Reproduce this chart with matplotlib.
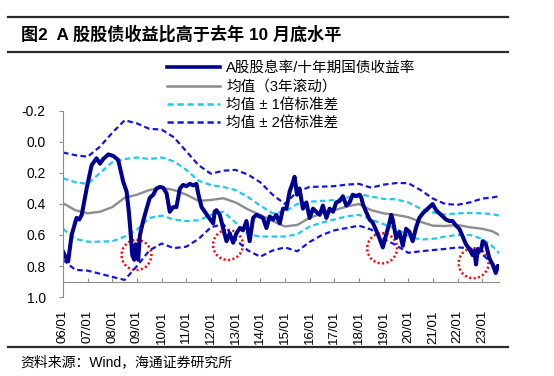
import matplotlib
matplotlib.use("Agg")
import matplotlib.pyplot as plt
from matplotlib.lines import Line2D
from matplotlib.patches import Ellipse

plt.rcParams["font.family"] = ["Liberation Sans", "Noto Sans CJK SC"]

# A股股息率/十年期国债收益率 (decimal years)
ratio_years = [
    2006.01, 2006.10, 2006.21, 2006.35, 2006.55, 2006.66, 2006.76, 2006.96,
    2007.16, 2007.36, 2007.50, 2007.63, 2007.84, 2008.04, 2008.24, 2008.44,
    2008.58, 2008.67, 2008.75, 2008.81, 2008.89, 2008.95, 2008.98, 2009.05,
    2009.12, 2009.25, 2009.39, 2009.52, 2009.66, 2009.79, 2009.93, 2010.06,
    2010.20, 2010.33, 2010.47, 2010.60, 2010.74, 2010.87, 2011.01, 2011.14,
    2011.28, 2011.41, 2011.48, 2011.62, 2011.75, 2011.88, 2012.02, 2012.09,
    2012.15, 2012.22, 2012.36, 2012.49, 2012.63, 2012.76, 2012.90, 2013.03,
    2013.17, 2013.30, 2013.44, 2013.57, 2013.71, 2013.84, 2013.98, 2014.11,
    2014.25, 2014.38, 2014.52, 2014.65, 2014.79, 2014.92, 2015.06, 2015.19,
    2015.33, 2015.39, 2015.49, 2015.59, 2015.73, 2015.87, 2016.00, 2016.14,
    2016.27, 2016.41, 2016.54, 2016.68, 2016.81, 2016.95, 2017.08, 2017.22,
    2017.35, 2017.49, 2017.62, 2017.75, 2017.89, 2018.03, 2018.10, 2018.16,
    2018.29, 2018.43, 2018.56, 2018.70, 2018.83, 2018.97, 2019.10, 2019.24,
    2019.31, 2019.37, 2019.51, 2019.64, 2019.78, 2019.91, 2020.05, 2020.18,
    2020.32, 2020.45, 2020.59, 2020.72, 2020.86, 2020.99, 2021.13, 2021.26,
    2021.40, 2021.53, 2021.67, 2021.80, 2021.94, 2022.07, 2022.21, 2022.34,
    2022.48, 2022.61, 2022.68, 2022.75, 2022.82, 2022.95, 2023.02, 2023.15,
    2023.29, 2023.42, 2023.55, 2023.62, 2023.69,
]
ratio_vals = [
    0.71, 0.74, 0.77, 0.60, 0.49, 0.50, 0.47, 0.30,
    0.15, 0.105, 0.14, 0.11, 0.08, 0.09, 0.116, 0.256,
    0.32, 0.45, 0.60, 0.73, 0.76, 0.66, 0.70, 0.76,
    0.60, 0.51, 0.43, 0.36, 0.34, 0.30, 0.29, 0.295,
    0.33, 0.45, 0.42, 0.42, 0.30, 0.277, 0.285, 0.27,
    0.28, 0.27, 0.33, 0.42, 0.45, 0.48, 0.51, 0.525,
    0.45, 0.44, 0.47, 0.555, 0.64, 0.59, 0.65, 0.59,
    0.555, 0.57, 0.51, 0.64, 0.49, 0.47, 0.48, 0.49,
    0.555, 0.48, 0.50, 0.47, 0.525, 0.43, 0.43, 0.32,
    0.256, 0.224, 0.34, 0.30, 0.43, 0.39, 0.49, 0.43,
    0.45, 0.47, 0.41, 0.49, 0.43, 0.45, 0.39, 0.38,
    0.35, 0.41, 0.39, 0.34, 0.35, 0.34, 0.36, 0.40,
    0.45, 0.50, 0.52, 0.57, 0.62, 0.68, 0.60, 0.52,
    0.47, 0.50, 0.62, 0.58, 0.67, 0.56, 0.58, 0.64,
    0.55, 0.49, 0.46, 0.44, 0.42, 0.40, 0.44, 0.46,
    0.48, 0.50, 0.51, 0.51, 0.54, 0.56, 0.61, 0.66,
    0.69, 0.73, 0.70, 0.79, 0.69, 0.70, 0.64, 0.66,
    0.75, 0.79, 0.845, 0.80, 0.80,
]

# 均值（3年滚动）and bands
band_years = [
    2006.0, 2006.5, 2007.0, 2007.5, 2008.0, 2008.5, 2009.0, 2009.5, 2010.0,
    2010.5, 2011.0, 2011.5, 2012.0, 2012.5, 2013.0, 2013.5, 2014.0, 2014.5,
    2015.0, 2015.5, 2016.0, 2016.5, 2017.0, 2017.5, 2018.0, 2018.5, 2019.0,
    2019.5, 2020.0, 2020.5, 2021.0, 2021.5, 2022.0, 2022.5, 2023.0, 2023.4,
    2023.69,
]
mean_vals = [
    0.395, 0.44, 0.46, 0.45, 0.42, 0.36, 0.34, 0.31, 0.295,
    0.31, 0.34, 0.38, 0.374, 0.363, 0.39, 0.435, 0.47, 0.51,
    0.545, 0.535, 0.49, 0.46, 0.44, 0.417, 0.40, 0.44, 0.46,
    0.47, 0.485, 0.515, 0.54, 0.542, 0.535, 0.55, 0.56, 0.575,
    0.60,
]
sd1_upper = [
    0.234, 0.26, 0.27, 0.20, 0.13, 0.11, 0.10, 0.11, 0.10,
    0.125, 0.18, 0.25, 0.278, 0.29, 0.31, 0.355, 0.41, 0.46,
    0.45, 0.40, 0.385, 0.38, 0.375, 0.36, 0.335, 0.352, 0.367,
    0.37, 0.39, 0.43, 0.455, 0.468, 0.46, 0.458, 0.46, 0.465,
    0.475,
]
sd1_lower = [
    0.56, 0.625, 0.643, 0.643, 0.64, 0.61, 0.565, 0.49, 0.475,
    0.50, 0.51, 0.505, 0.47, 0.45, 0.52, 0.595, 0.61, 0.61,
    0.61, 0.595, 0.545, 0.52, 0.50, 0.48, 0.47, 0.50, 0.53,
    0.56, 0.605, 0.63, 0.625, 0.61, 0.60, 0.60, 0.625, 0.67,
    0.718,
]
sd2_upper = [
    0.068, 0.085, 0.095, 0.03, -0.06, -0.14, -0.12, -0.085, -0.08,
    -0.03, 0.06, 0.15, 0.205, 0.185, 0.18, 0.21, 0.26, 0.34,
    0.40, 0.32, 0.29, 0.288, 0.285, 0.275, 0.27, 0.295, 0.275,
    0.265, 0.265, 0.31, 0.365, 0.40, 0.405, 0.39, 0.365, 0.358,
    0.35,
]
sd2_lower = [
    0.76, 0.825, 0.83, 0.85, 0.87, 0.89, 0.80, 0.70, 0.655,
    0.685, 0.675, 0.625, 0.55, 0.53, 0.63, 0.70, 0.74, 0.70,
    0.68, 0.705, 0.645, 0.60, 0.57, 0.555, 0.54, 0.565, 0.625,
    0.665, 0.715, 0.705, 0.697, 0.69, 0.68, 0.685, 0.725, 0.78,
    0.826,
]

# red dotted circles marking the lows
low_years = [2008.98, 2012.69, 2018.94, 2022.65]
low_vals = [0.729, 0.664, 0.686, 0.782]

tick_years = list(range(2006, 2024))
tick_labels = [f"{y % 100:02d}/01" for y in tick_years]
y_ticks = [-0.2, 0.0, 0.2, 0.4, 0.6, 0.8, 1.0]
y_bottom, y_top, x_cross = 1.0, -0.2, 0.9

NAVY = "#000090"
GREY = "#8c8c8c"
CYAN = "#1ec8f5"
BLUE = "#1414e6"
AXIS = "#8c8c8c"

fig = plt.figure(figsize=(5.54, 3.76), dpi=100)
ax = fig.add_axes([0.1137, 0.2101, 0.787, 0.4947])

ax.plot(band_years, sd2_upper, color=BLUE, lw=1.6, dashes=(2.5, 1.5))
ax.plot(band_years, sd2_lower, color=BLUE, lw=1.6, dashes=(2.5, 1.5))
ax.plot(band_years, sd1_upper, color=CYAN, lw=1.6, dashes=(2.5, 1.5))
ax.plot(band_years, sd1_lower, color=CYAN, lw=1.6, dashes=(2.5, 1.5))
ax.plot(band_years, mean_vals, color=GREY, lw=1.7)
ax.plot(ratio_years, ratio_vals, color=NAVY, lw=2.9, solid_joinstyle="round")

for cx, cy in zip(low_years, low_vals):
    ax.add_patch(Ellipse((cx, cy), width=1.21, height=0.194, fill=False,
                         edgecolor="red", lw=1.8, linestyle=(0, (0.8, 1.0))))

ax.set_xlim(2006.0, 2023.68)
ax.set_ylim(y_bottom, y_top)
ax.set_yticks(y_ticks)
ax.set_yticklabels([f"{v:.1f}" for v in y_ticks])
ax.set_xticks(tick_years)
ax.set_xticklabels(tick_labels, rotation=90, va="top", ha="center")

for side in ("top", "right", "bottom"):
    ax.spines[side].set_visible(False)
ax.spines["left"].set_color(AXIS)
ax.tick_params(axis="y", direction="out", length=3, color=AXIS, pad=9.5,
               labelsize=10)
ax.tick_params(axis="x", length=0, pad=9.5, labelsize=9.5)

# horizontal axis line crosses the y axis at 0.9
cross_frac = (y_bottom - x_cross) / (y_bottom - y_top)
sec = ax.secondary_xaxis(cross_frac)
sec.set_xticks(tick_years)
sec.set_xticklabels([])
sec.tick_params(direction="in", length=3, color=AXIS)
sec.spines["bottom"].set_color(AXIS)

handles = [
    Line2D([], [], color=NAVY, lw=2.6),
    Line2D([], [], color=GREY, lw=1.8),
    Line2D([], [], color=CYAN, lw=1.8, dashes=(2.5, 1.5)),
    Line2D([], [], color=BLUE, lw=1.8, dashes=(2.5, 1.5)),
]
labels = ["A股股息率/十年期国债收益率", "均值（3年滚动）",
          "均值 ± 1倍标准差", "均值 ± 2倍标准差"]
fig.legend(handles, labels, loc="upper left", bbox_to_anchor=(0.302, 0.837),
           frameon=False, fontsize=10.5, handlelength=3.6, handletextpad=0.45,
           labelspacing=0.3, borderpad=0, borderaxespad=0)

# header and footer rules
for yy in (1 - 16.7 / 376, 1 - 52 / 376, 1 - 346.7 / 376):
    fig.add_artist(Line2D([8 / 554, 508 / 554], [yy, yy],
                          transform=fig.transFigure, color="#2b2b2b", lw=1.6))

fig.text(21 / 554, 1 - 34 / 376, "图2  A 股股债收益比高于去年 10 月底水平",
         fontsize=12.3, fontweight="bold", va="center", ha="left")
fig.text(20 / 554, 1 - 362 / 376, "资料来源：Wind，海通证券研究所",
         fontsize=10, va="center", ha="left")

fig.savefig("out.png", dpi=100)
